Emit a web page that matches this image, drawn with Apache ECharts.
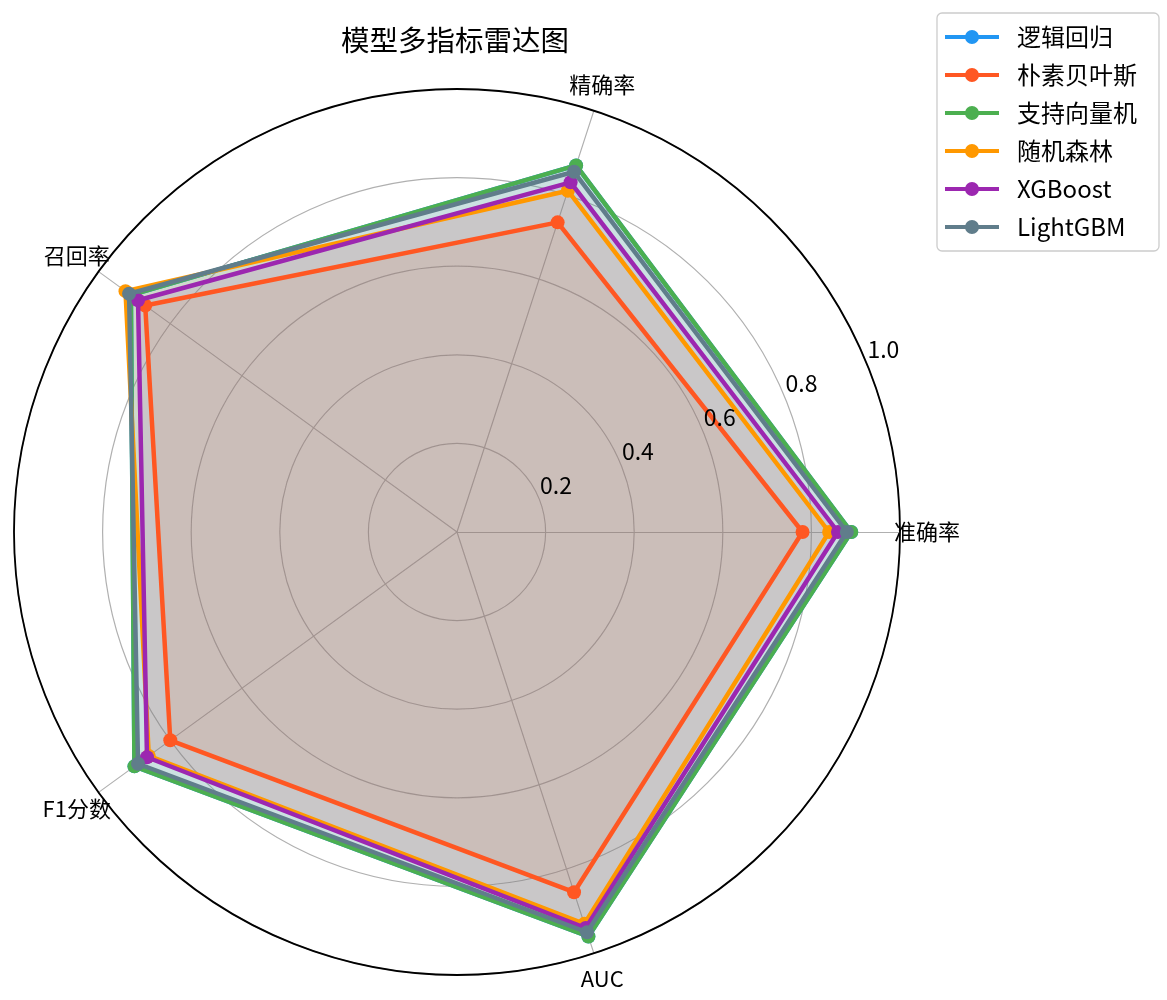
<!DOCTYPE html>
<html><head><meta charset="utf-8">
<script src="https://cdn.jsdelivr.net/npm/echarts@6/dist/echarts.min.js"></script>
<style>html,body{margin:0;padding:0;background:#fff}#c{width:1167px;height:1000px}</style>
</head><body><div id="c"></div>
<script>
const indicators = ['准确率', '精确率', '召回率', 'F1分数', 'AUC'];
const models = ['逻辑回归', '朴素贝叶斯', '支持向量机', '随机森林', 'XGBoost', 'LightGBM'];
const lrValues   = [0.89, 0.87, 0.91, 0.90, 0.96];
const nbValues   = [0.78, 0.735, 0.87, 0.80, 0.855];
const svmValues  = [0.89, 0.87, 0.91, 0.90, 0.96];
const rfValues   = [0.84, 0.81, 0.925, 0.86, 0.93];
const xgbValues  = [0.86, 0.83, 0.89, 0.865, 0.94];
const lgbmValues = [0.88, 0.855, 0.915, 0.89, 0.95];
const radialTicks = [0.2, 0.4, 0.6, 0.8, 1.0];
const colors = ['#2196F3', '#FF5722', '#4CAF50', '#FF9800', '#9C27B0', '#607D8B'];

const allValues = [lrValues, nbValues, svmValues, rfValues, xgbValues, lgbmValues];
const FONT = '"Noto Sans CJK SC", "Noto Sans", sans-serif';
const CX = 457, CY = 532, R = 443;

const chart = echarts.init(document.getElementById('c'), null, {renderer: 'canvas'});
// line + marker series (drawn above all fills, like matplotlib zorder)
const lineSeries = models.map((m, i) => ({
  type: 'radar',
  name: m,
  z: 10 + i,
  symbol: 'circle',
  symbolSize: 14,
  lineStyle: {width: 4.5, color: colors[i]},
  itemStyle: {color: colors[i]},
  emphasis: {disabled: true},
  data: [{name: m, value: allValues[i]}]
}));
// translucent fills (below all lines)
const fillSeries = models.map((m, i) => ({
  type: 'radar',
  name: m,
  z: 2,
  symbol: 'none',
  lineStyle: {width: 0, opacity: 0},
  itemStyle: {color: colors[i]},
  areaStyle: {color: colors[i], opacity: 0.1},
  emphasis: {disabled: true},
  silent: true,
  data: [{name: m, value: allValues[i]}]
}));

chart.setOption({
  animation: false,
  color: colors,
  title: {
    text: '模型多指标雷达图',
    left: CX - 7, top: 21, textAlign: 'center',
    textStyle: {fontFamily: FONT, fontSize: 28.5, fontWeight: 'normal', color: '#000'}
  },
  legend: {
    orient: 'vertical',
    left: 937, top: 13,
    data: models,
    selectedMode: false,
    icon: 'path://M0,5h21v4H0z M33,5h21v4H33z M20,7a7,7 0 1,1 14,0a7,7 0 1,1 -14,0z',
    itemWidth: 54, itemHeight: 14, itemGap: 0,
    padding: [5, 22, 5, 8],
    borderColor: '#cccccc', borderWidth: 1.3, borderRadius: 5,
    backgroundColor: '#fff',
    textStyle: {fontFamily: FONT, fontSize: 24, color: '#000', lineHeight: 38, padding: [0, 0, 0, 13]}
  },
  radar: {
    center: [CX, CY], radius: R,
    startAngle: 0,
    shape: 'circle',
    splitNumber: 5,
    indicator: indicators.map(n => ({name: n, min: 0, max: 1})),
    axisName: {color: '#000', fontFamily: FONT, fontSize: 22, align: 'center', verticalAlign: 'middle'},
    axisNameGap: 27,
    axisLine: {lineStyle: {color: '#b0b0b0', width: 1.2}},
    splitLine: {lineStyle: {color: '#b0b0b0', width: 1.2}},
    splitArea: {show: false},
    axisTick: {show: false},
    axisLabel: {show: false}
  },
  polar: {center: [CX, CY], radius: R},
  angleAxis: {
    type: 'value', min: 0, max: 360, startAngle: 22.5,
    axisLine: {lineStyle: {color: '#000', width: 1.8}},
    axisTick: {show: false}, axisLabel: {show: false}, splitLine: {show: false},
    z: 8
  },
  radiusAxis: {
    type: 'value', min: 0, max: 1, interval: 0.2,
    axisLine: {show: false}, axisTick: {show: false}, splitLine: {show: false},
    z: 30,
    axisLabel: {
      show: true, color: '#000', fontFamily: FONT, fontSize: 23,
      align: 'center', verticalAlign: 'middle', margin: 14,
      padding: [0, 0, 0, 45],
      formatter: v => radialTicks.some(t => Math.abs(t - v) < 1e-6) ? v.toFixed(1) : ''
    }
  },
  series: lineSeries.concat(fillSeries)
});
</script></body></html>
